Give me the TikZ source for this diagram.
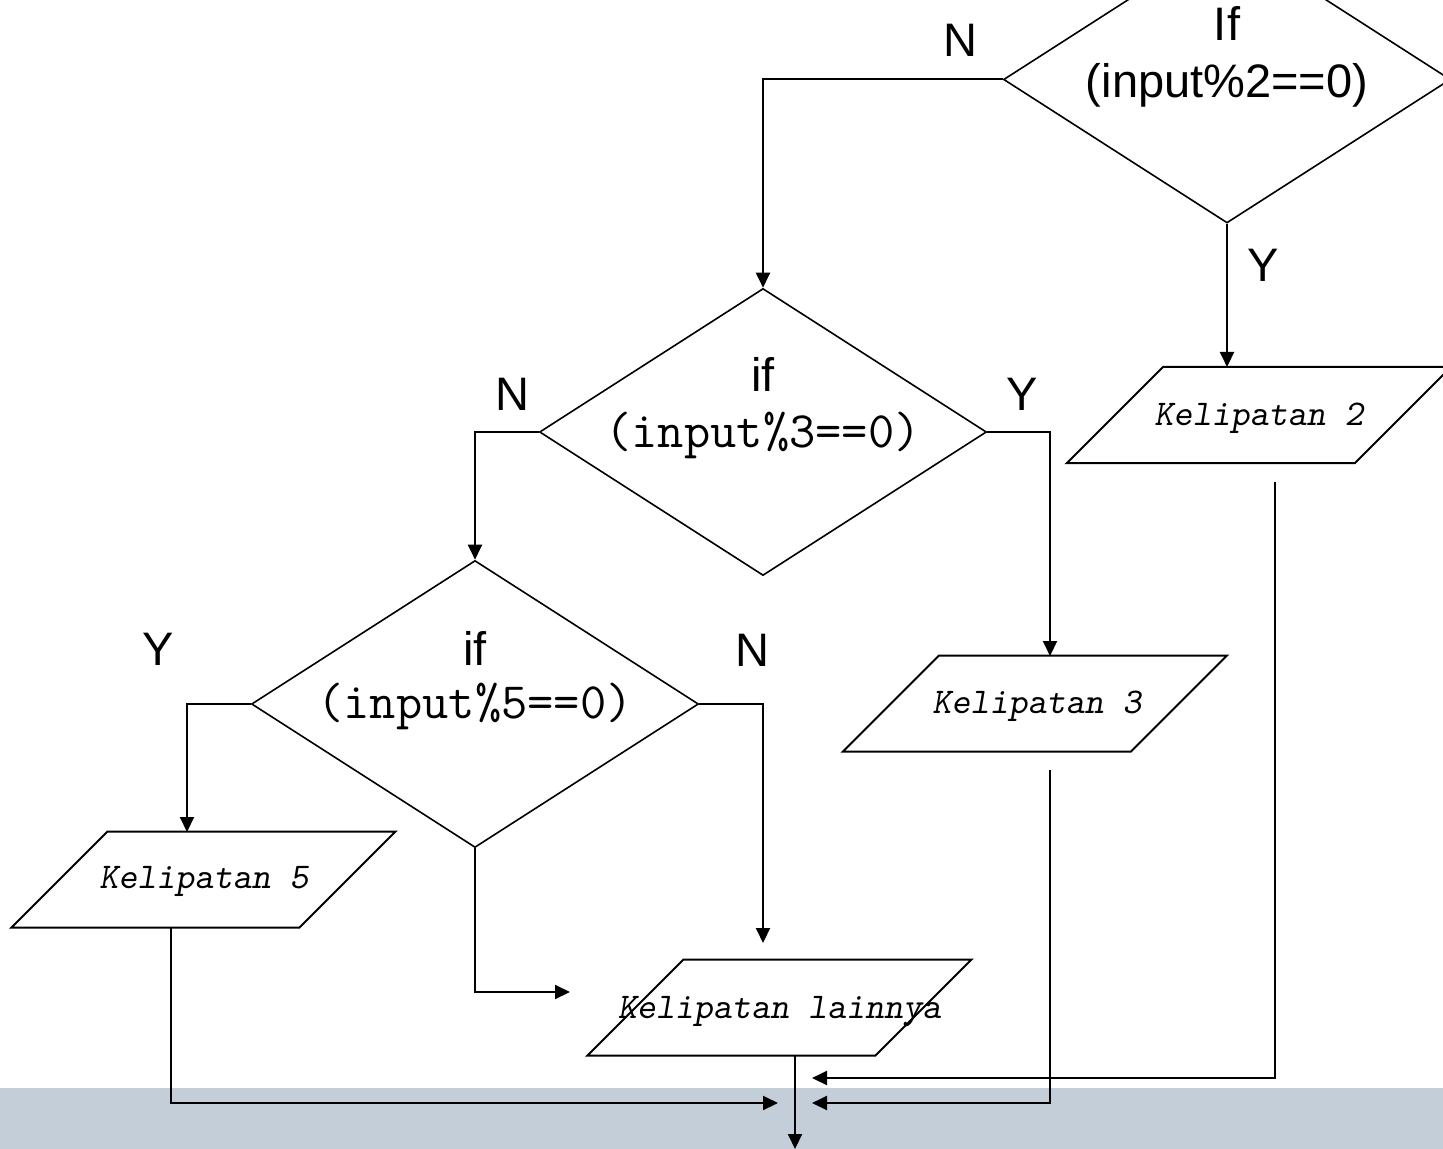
\documentclass[tikz,border=0pt]{standalone}
\usepackage{fontspec}
\setmainfont{Liberation Sans}
\newfontfamily\arialf{Liberation Sans}
\usetikzlibrary{shapes.geometric,arrows.meta}
\definecolor{bandblue}{RGB}{195,206,217}
\tikzset{
  decision/.style={draw, shape=diamond, inner sep=0pt, minimum width=223.5pt, minimum height=143.5pt, line width=0.8pt},
  iobox/.style={line width=1pt, line join=miter},
  lbl/.style={anchor=base, inner sep=0pt, font=\arialf\fontsize{23.5}{28}\selectfont},
  code/.style={anchor=base, inner sep=0pt, font=\ttfamily\fontsize{25.5}{30}\selectfont},
  outtxt/.style={anchor=base, inner sep=0pt, font=\ttfamily\slshape\fontsize{18.1}{22}\selectfont},
  arr/.style={line width=1pt, -{Triangle[length=7.5pt,width=7pt]}}
}
\begin{document}
\begin{tikzpicture}[x=0.5pt,y=-0.5pt]
\useasboundingbox (0,0) rectangle (1443,1149);
\clip (0,0) rectangle (1443,1149);
\fill[bandblue] (0,1088) rectangle (1443,1149);

% decisions
\node[decision] (d1) at (1227,79.5) {};
\node[decision] (d2) at (763,432) {};
\node[decision] (d3) at (475,704) {};

\node[lbl] (d1a) at (1227,41) {If};
\node[lbl] (d1b) at (1227,98) {(input\%2==0)};
\node[lbl] (d2a) at (763,392) {if};
\node[code] (d2b) at (763,447) {(input\%3==0)};
\node[lbl] (d3a) at (475,665) {if};
\node[code] (d3b) at (475,718) {(input\%5==0)};

% outputs (parallelograms)
\coordinate (p2) at (1259,415);
\coordinate (p3) at (1035,703.5);
\coordinate (p5) at (203.5,879.5);
\coordinate (pl) at (779.5,1007.5);
\foreach \p in {p2,p3,p5,pl}
  \draw[iobox] (\p) ++(-192,48) -- ++(288,0) -- ++(96,-96) -- ++(-288,0) -- cycle;

\node[outtxt] (t2) at (1259,425) {Kelipatan 2};
\node[outtxt] (t3) at (1037,713) {Kelipatan 3};
\node[outtxt] (t5) at (204,888) {Kelipatan 5};
\node[outtxt] (tl) at (779.5,1018) {Kelipatan lainnya};

% branch labels
\node[lbl] (n1) at (960,57) {N};
\node[lbl] (y1) at (1263,282) {Y};
\node[lbl] (n2) at (512,410) {N};
\node[lbl] (y2) at (1022,410) {Y};
\node[lbl] (y3) at (158,665) {Y};
\node[lbl] (n3) at (752,666) {N};

% connector ends
\coordinate (p2in) at (1227,367);
\coordinate (p3in) at (1050,656);
\coordinate (p5in) at (187,832);
\coordinate (plin) at (763,943);
\coordinate (plin2) at (570,992);
\coordinate (p5out) at (171,928);
\coordinate (p3out) at (1050,770);
\coordinate (p2out) at (1275,482);
\coordinate (plout) at (795,1056);
\coordinate (endL) at (778,1103);
\coordinate (endR) at (812,1103);
\coordinate (endR2) at (812,1078);
\coordinate (endD) at (795,1149);

% connectors
\draw[arr] (d1.west) -| (d2.north);
\draw[arr] (d1.south) -- (p2in);
\draw[arr] (d2.west) -| (d3.north);
\draw[arr] (d2.east) -| (p3in);
\draw[arr] (d3.west) -| (p5in);
\draw[arr] (d3.east) -| (plin);
\draw[arr] (d3.south) |- (plin2);
\draw[arr] (p5out) |- (endL);
\draw[arr] (p3out) |- (endR);
\draw[arr] (p2out) |- (endR2);
\draw[arr] (plout) -- (endD);
\end{tikzpicture}
\end{document}
